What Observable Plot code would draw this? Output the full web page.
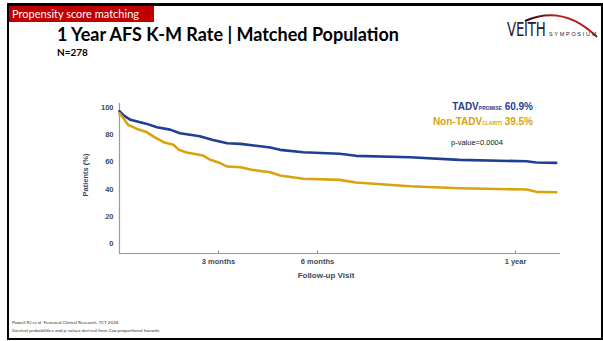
<!DOCTYPE html>
<html>
<head>
<meta charset="utf-8">
<script src="https://cdn.jsdelivr.net/npm/d3@7"></script>
<script src="https://cdn.jsdelivr.net/npm/@observablehq/plot@0.6"></script>
<style>
  body { margin: 0; background: #fff; }
  #slide { position: relative; width: 603px; height: 341px; background: #fff; overflow: hidden; font-family: "Liberation Sans", Arial, sans-serif; }
  .abs { position: absolute; white-space: nowrap; }
</style>
</head>
<body>
<div id="slide">
  <div class="abs" style="left:7px;top:3px;width:592px;height:332px;border-top:3px solid #000;border-left:2px solid #000;border-right:2px solid #000;border-bottom:2px solid #000;"></div>
  <div class="abs" id="tag" style="left:9px;top:6px;width:145px;height:16px;background:#c00000;color:#fff;font-family:Lato,'Open Sans',sans-serif;font-size:11px;line-height:16px;padding-left:3px;box-sizing:border-box;"></div>
  <div class="abs" id="title" style="left:57px;top:23px;font-family:Lato,'Open Sans',sans-serif;font-weight:bold;font-size:18px;color:#000;"></div>
  <div class="abs" id="subtitle" style="left:57px;top:46px;font-family:Lato,'Open Sans',sans-serif;font-weight:bold;font-size:10px;color:#000;"></div>
  <div class="abs" id="logo" style="left:505px;top:8px;width:95px;height:32px;">
    <svg width="95" height="32" style="position:absolute;left:0;top:0">
      <defs><linearGradient id="arcg" x1="0" x2="1"><stop offset="0" stop-color="#2a0606"/><stop offset="0.45" stop-color="#c0202a"/><stop offset="1" stop-color="#b01820"/></linearGradient></defs>
      <path d="M20,13 Q58,-4 92,29" fill="none" stroke="url(#arcg)" stroke-width="2"/>
    </svg>
    <span class="abs" style="left:2px;top:11px;font-family:'DejaVu Sans Condensed','Liberation Sans Narrow',sans-serif;font-size:19px;line-height:20px;color:#222;letter-spacing:-0.3px;transform:scaleX(0.78);transform-origin:left;" id="logoA"></span>
    <span class="abs" style="left:44px;top:23px;font-family:'Liberation Sans Narrow',sans-serif;font-size:5.5px;color:#222;letter-spacing:1.7px;" id="logoB"></span>
  </div>
  <div id="chart" class="abs" style="left:0;top:95px;"></div>
  <div class="abs" id="ytitle" style="left:85px;top:175px;transform:translate(-50%,-50%) rotate(-90deg);font-weight:bold;font-size:7.5px;color:#3b4a5c;"></div>
  <div class="abs" id="xtitle" style="left:326px;top:275px;transform:translate(-50%,-50%);font-weight:bold;font-size:8px;color:#3b4a5c;"></div>
  <div class="abs" id="legend" style="right:70px;top:100px;text-align:right;font-weight:bold;font-size:10px;line-height:14px;"></div>
  <div class="abs" id="pval" style="left:451px;top:138px;font-size:7.5px;color:#111;"></div>
  <div class="abs" id="foot" style="left:12px;top:318px;font-family:Lato,'Open Sans',sans-serif;font-size:4.6px;line-height:8px;color:#333;"></div>
</div>
<script>
// ---- text ----
const tagText = "Propensity score matching";
const titleText = "1 Year AFS K-M Rate | Matched Population";
const subtitleText = "N=278";
const yTitle = "Patients (%)";
const xTitle = "Follow-up Visit";
const pValueText = "p-value=0.0004";
const footnotes = ["Powell RJ et al. Featured Clinical Research. TCT 2024", "Survival probabilities and p-values derived from Cox proportional hazards"];
const logoMain = "VEITH";
const logoSub = "SYMPOSIUM";

// ---- legend ----
const seriesNames = ["TADV", "Non-TADV"];
const seriesSubs = ["PROMISE", "CLariTI"];
const seriesRates = ["60.9%", "39.5%"];
const seriesColors = ["#1f3f94", "#d9a20f"];

// ---- axes ----
const yTicks = [0, 20, 40, 60, 80, 100];
const xTickDays = [90, 180, 360];
const xTickLabels = ["3 months", "6 months", "1 year"];

// ---- curves (days, % event-free) ----
const tadvDays = [0, 4, 10, 25, 34, 46, 55, 73, 85, 98, 110, 128, 137, 146, 167, 200, 215, 264, 309, 370, 379, 397];
const tadvPct  = [97.3, 94.1, 91, 88, 85.5, 83.8, 81.1, 78.9, 76.2, 73.8, 73.3, 71.5, 70.6, 68.9, 67.1, 66, 64.5, 63.5, 61.5, 60.5, 59.6, 59.3];
const nonDays  = [0, 4, 7.5, 16, 25, 31, 40, 49, 54, 61, 76, 82, 92, 98, 110, 119, 128, 137, 146, 167, 200, 215, 264, 309, 370, 379, 397];
const nonPct   = [95.8, 91.7, 87.5, 84.3, 81.8, 78.7, 74.5, 72.6, 68.9, 66.9, 64.7, 61.8, 59, 56.6, 56.1, 54.4, 53.4, 52.4, 50, 47.6, 46.8, 44.9, 42.1, 40.7, 39.7, 38, 37.7];

const rows = [
  ...tadvDays.map((d, i) => ({day: d, pct: tadvPct[i], group: seriesNames[0]})),
  ...nonDays.map((d, i) => ({day: d, pct: nonPct[i], group: seriesNames[1]}))
];

const axisColor = "#3b4a5c";
const chart = Plot.plot({
  width: 603,
  height: 195,
  marginLeft: 119,
  marginRight: 44,
  marginTop: 8,
  marginBottom: 37,
  style: {fontFamily: "'Liberation Sans', Arial, sans-serif", background: "transparent"},
  x: {domain: [0, 400]},
  y: {domain: [-7.35, 103]},
  color: {domain: seriesNames, range: seriesColors},
  marks: [
    Plot.frame({anchor: "left", stroke: "#9a9a9a", strokeWidth: 1.2}),
    Plot.frame({anchor: "bottom", stroke: "#9a9a9a", strokeWidth: 1.2}),
    Plot.axisY({ticks: yTicks, tickSize: 0, tickPadding: 6, label: null, fontWeight: "bold", fontSize: 7.5, fill: axisColor}),
    Plot.axisX({ticks: xTickDays, tickSize: 0, tickPadding: 5, label: null, fontWeight: "bold", fontSize: 7.5, fill: axisColor,
      tickFormat: d => xTickLabels[xTickDays.indexOf(d)]}),
    Plot.axisX({ticks: xTickDays, tickSize: 2.5, tickPadding: 0, label: null, dy: -2.5, stroke: "#8a8a8a", tickFormat: () => ""}),
    Plot.line(rows, {x: "day", y: "pct", z: "group", stroke: "group", strokeWidth: 2.6, curve: "linear"})
  ]
});
document.getElementById("chart").appendChild(chart);

document.getElementById("tag").textContent = tagText;
document.getElementById("title").textContent = titleText;
document.getElementById("subtitle").textContent = subtitleText;
document.getElementById("ytitle").textContent = yTitle;
document.getElementById("xtitle").textContent = xTitle;
document.getElementById("pval").textContent = pValueText;
document.getElementById("logoA").textContent = logoMain;
document.getElementById("logoB").textContent = logoSub;
document.getElementById("foot").innerHTML = footnotes.map(f => `<div>${f}</div>`).join("");
document.getElementById("legend").innerHTML = seriesNames.map((n, i) =>
  `<div style="color:${seriesColors[i]}">${n}<span style="font-size:5px;text-transform:uppercase;font-weight:bold">${seriesSubs[i]}</span> ${seriesRates[i]}</div>`
).join("");
</script>
</body>
</html>
